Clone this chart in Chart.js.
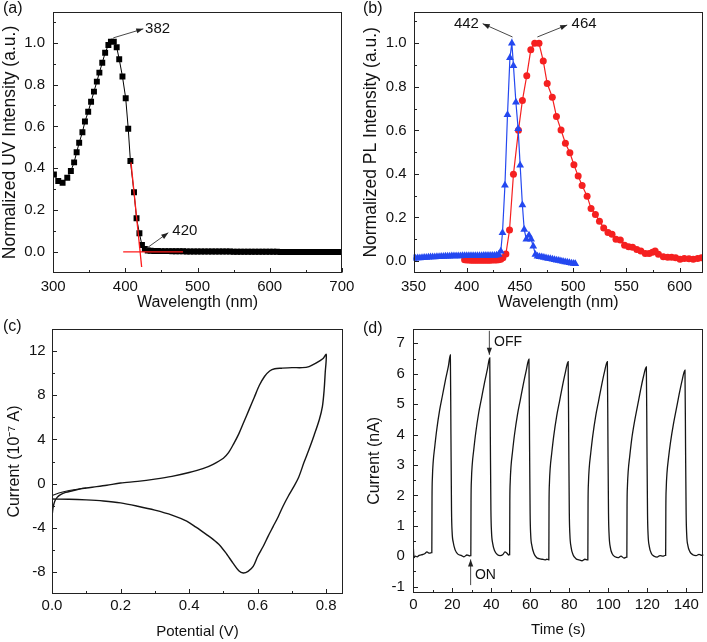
<!DOCTYPE html>
<html><head><meta charset="utf-8">
<script src="https://cdn.jsdelivr.net/npm/chart.js@4.4.0/dist/chart.umd.min.js"></script>
<style>
html,body{margin:0;padding:0;background:#fff;}
#wrap{position:relative;width:707px;height:642px;overflow:hidden;font-family:"Liberation Sans",Arial,sans-serif;background:#fff;}
canvas{position:absolute;left:0;top:0;}
.lbl{position:absolute;font-size:16px;line-height:16px;color:#111;}
</style></head><body>
<div id="wrap">
<canvas id="ca" width="707" height="642"></canvas>
<canvas id="cb" width="707" height="642"></canvas>
<canvas id="cc" width="707" height="642"></canvas>
<canvas id="cd" width="707" height="642"></canvas>
<div class="lbl" style="left:3px;top:0px">(a)</div>
<div class="lbl" style="left:363px;top:0px">(b)</div>
<div class="lbl" style="left:3px;top:318px">(c)</div>
<div class="lbl" style="left:363px;top:320px">(d)</div>
</div>
<script>
// ---------- Panel (a): UV absorption ----------
const aWave = [301,307,313,319.5,324.5,329,332.5,336,340.5,344,348.5,352.5,356.5,360.5,364,368,372,376.5,380,384,388,391.5,396,400.5,404,407,412,415.5,419.5,423,427,431,
  435,440,445,450,455,460,465,470,475,480,485,490,495,500,505,510,515,520,525,530,535,540,545,550,555,560,565,570,575,580,585,590,595,600,605,610,615,620,625,630,635,640,645,650,655,660,665,670,675,680,685,690,695,700];
const aUV = [0.37,0.339,0.331,0.355,0.387,0.428,0.476,0.522,0.572,0.623,0.67,0.718,0.766,0.814,0.857,0.904,0.952,0.989,1.005,1.005,0.978,0.921,0.838,0.734,0.589,0.435,0.285,0.161,0.089,0.033,0.014,0.007,
  0.006,0.005,0.005,0.004,0.004,0.004,0.003,0.003,0.003,0.003,0.002,0.002,0.002,0.002,0.002,0.002,0.002,0.002,0.002,0.002,0.002,0.002,0.002,0.001,0.001,0.001,0.001,0.001,0.001,0.001,0.001,0.001,0.001,0.001,0.001,0.001,0.0,0.0,0.0,0.0,0.0,0.0,0.0,0.0,0.0,0.0,0.0,0.0,0.0,0.0,0.0,0.0,0.0,0.0];
const aTangentX = [407.8, 422.6], aTangentY = [0.428, -0.072];
const aEdgeX = [397, 480], aEdgeY = [0, 0];
const aXTicks = [300,400,500,600,700], aXMinor = [350,450,550,650];
const aYTicks = [0,0.2,0.4,0.6,0.8,1.0], aYMinor = [0.1,0.3,0.5,0.7,0.9,1.1];

// ---------- Panel (b): PL spectra ----------
const bBlueX = [350,352,354,356,358,360,362,364,366,368,370,372,374,376,378,380,382,384,386,388,390,392,394,396,398,400,402,404,406,408,410,412,414,416,418,420,422,424,426,428,430,
  432,433.6,435.9,438.3,440.6,442.4,443.9,446.2,448.3,450.2,452.3,454,456,458.5,460.5,462.5,464.5,
  466.5,468.5,470.5,472.5,474.5,476.5,478.5,480.5,482.5,484.5,486.5,488.5,490.5,492.5,494.5,496.5,498.5,500.5,502];
const bBlueY = [0.012,0.013,0.014,0.014,0.015,0.016,0.016,0.017,0.018,0.018,0.019,0.02,0.02,0.021,0.021,0.022,0.022,0.022,0.023,0.023,0.023,0.023,0.023,0.024,0.024,0.024,0.024,0.024,0.024,0.024,0.024,0.024,0.024,0.025,0.025,0.025,0.025,0.025,0.025,0.026,0.03,
  0.045,0.13,0.348,0.672,0.934,1.0,0.897,0.729,0.607,0.44,0.257,0.145,0.1,0.118,0.1,0.068,0.03,
  0.022,0.02,0.018,0.016,0.014,0.012,0.01,0.008,0.006,0.004,0.002,0.0,-0.002,-0.004,-0.006,-0.008,-0.01,-0.011,-0.012];
const bRedX = [398,400,402,404,406,408,410,412,414,416,418,420,422,424,426,428,430,432,434,
  436.8,440.2,443.9,448.6,452.3,456.4,460.2,463.9,467.9,471.9,475.6,480.4,484.3,488.6,492.7,496.9,500.7,504.7,508.4,513.1,516.8,520.9,524.7,528.7,532.7,536.5,540.2,544.3,548.3,552.1,555.8,559.8,563.6,567.7,571.4,574.5,577,580.1,584.7,588.8,592.5,596.3,600.4,604.4,608.8,612.8,616.9,620.5];
const bRedY = [0.006,0.005,0.005,0.004,0.004,0.004,0.004,0.004,0.004,0.004,0.004,0.004,0.004,0.005,0.005,0.005,0.006,0.008,0.015,
  0.032,0.142,0.398,0.6,0.737,0.851,0.97,1.0,1.0,0.919,0.815,0.752,0.664,0.602,0.541,0.497,0.442,0.39,0.347,0.298,0.241,0.214,0.183,0.152,0.131,0.123,0.1,0.097,0.073,0.065,0.063,0.053,0.046,0.035,0.035,0.04,0.046,0.031,0.02,0.017,0.017,0.015,0.008,0.012,0.01,0.008,0.012,0.015];
const bXTicks = [350,400,450,500,550,600], bXMinor = [375,425,475,525,575];
const bYTicks = [0,0.2,0.4,0.6,0.8,1.0], bYMinor = [0.1,0.3,0.5,0.7,0.9,1.1];

// ---------- Panel (c): cyclic voltammetry ----------
const cV = [0.0,0.003,0.008,0.015,0.025,0.04,0.06,0.08,0.1,0.13,0.16,0.2,0.25,0.3,0.35,0.4,0.44,0.47,0.5,0.515,0.53,0.545,0.56,0.575,0.59,0.605,0.62,0.635,0.65,0.67,0.7,0.73,0.75,0.77,0.79,0.8,
  0.797,0.794,0.789,0.78,0.765,0.75,0.735,0.72,0.705,0.69,0.674,0.66,0.645,0.63,0.616,0.6,0.587,0.572,0.558,0.545,0.528,0.51,0.49,0.47,0.45,0.42,0.393,0.35,0.3,0.25,0.2,0.15,0.1,0.05,0.0];
const cI = [-3.0,-2.2,-1.6,-1.25,-1.0,-0.8,-0.65,-0.5,-0.4,-0.28,-0.15,0.05,0.2,0.4,0.65,1.0,1.35,1.75,2.3,2.8,3.6,4.5,5.6,6.7,7.8,8.9,9.7,10.2,10.4,10.45,10.5,10.5,10.6,10.9,11.3,11.7,
  10.0,8.5,7.0,5.8,4.4,3.1,1.9,0.6,-0.3,-1.1,-2.05,-3.0,-3.9,-4.8,-5.7,-6.6,-7.5,-7.95,-8.1,-7.9,-7.2,-6.4,-5.6,-5.05,-4.6,-3.95,-3.4,-2.85,-2.4,-2.05,-1.75,-1.58,-1.48,-1.42,-1.4];
const cV2 = [0.0,0.02,0.05,0.08,0.1];
const cI2 = [-1.1,-0.85,-0.62,-0.48,-0.4];
const cXTicks = [0,0.2,0.4,0.6,0.8], cXMinor = [0.1,0.3,0.5,0.7];
const cYTicks = [-8,-4,0,4,8,12], cYMinor = [-6,-2,2,6,10];

// ---------- Panel (d): photocurrent ----------
const dTime = [0,0.4,1,2,3,4,5,6,7,8,9,9.4,
 9.5,9.6,9.8,10.2,11,12,13.5,15,16.5,18,19,
 19.3,19.6,19.9,20.5,21.5,23,24.5,26,27.5,29,29.4,
 29.5,29.6,29.8,30.2,31,32,33.5,35,36.5,38,39.2,
 39.5,39.8,40.1,40.7,41.7,43.2,44.5,46,47,48,49,49.3,
 49.4,49.5,49.7,50.1,50.9,51.9,53.4,54.9,56.4,57.9,59.3,
 59.6,59.9,60.2,60.8,61.8,63.3,64.5,66,67.5,68.5,69.4,
 69.5,69.6,69.8,70.2,71,72,73.5,75,76.5,78,79.4,
 79.7,80,80.3,80.9,81.9,83.4,85,86.5,88,89.4,
 89.5,89.6,89.8,90.2,91,92,93.5,95,96.5,98,99.5,
 99.8,100.1,100.4,101,102,103.5,105,106.5,108,109.4,
 109.5,109.6,109.8,110.2,111,112,113.5,115,116.5,118,119.5,
 119.8,120.1,120.4,121,122,123.5,125,126.5,128,129.3,
 129.4,129.5,129.7,130.1,130.9,131.9,133.4,134.9,136.4,137.9,139.3,
 139.6,139.9,140.2,140.8,141.8,143.3,145,146.5,148,150];
const dCurrent = [0.3,-0.05,0.0,-0.02,0.03,0.04,0.06,0.09,0.14,0.1,0.11,0.12,
 0.12,1.9,2.6,3.1,3.6,4.15,4.8,5.3,5.8,6.25,6.62,
 4.0,1.5,0.8,0.45,0.2,0.06,0.03,-0.02,0.04,0.01,0.02,
 0.02,1.8,2.5,3.0,3.5,4.05,4.7,5.2,5.7,6.15,6.52,
 3.9,1.5,0.8,0.42,0.18,0.05,0.02,0.06,0.14,0.1,0.04,0.05,
 0.05,1.8,2.45,2.95,3.45,4.0,4.65,5.15,5.65,6.1,6.48,
 3.8,1.4,0.7,0.35,0.1,-0.05,-0.08,-0.1,-0.12,-0.1,-0.12,
 -0.12,1.7,2.4,2.9,3.4,3.95,4.6,5.1,5.6,6.05,6.4,
 3.8,1.4,0.7,0.3,0.05,-0.08,-0.12,-0.15,-0.1,-0.12,
 -0.12,1.7,2.4,2.9,3.4,3.95,4.6,5.1,5.6,6.05,6.4,
 3.8,1.4,0.7,0.3,0.08,-0.02,-0.05,0.0,-0.06,-0.03,
 -0.03,1.65,2.3,2.8,3.3,3.85,4.45,4.95,5.45,5.9,6.22,
 3.7,1.4,0.7,0.32,0.1,0.0,-0.03,0.02,0.0,0.03,
 0.03,1.6,2.25,2.75,3.25,3.75,4.35,4.85,5.35,5.8,6.12,
 3.6,1.4,0.7,0.35,0.15,0.05,0.02,0.06,0.03,0.05];
const dXTicks = [0,20,40,60,80,100,120,140], dXMinor = [10,30,50,70,90,110,130];
const dYTicks = [-1,0,1,2,3,4,5,6,7], dYMinor = [-0.5,0.5,1.5,2.5,3.5,4.5,5.5,6.5];

// ---------- helpers ----------
const FONT = '"Liberation Sans", Arial, sans-serif';
const INK = '#111';
function pts(xs, ys){ return xs.map((v,i)=>({x:v, y:ys[i]})); }

function xAxis(min,max,ticks,fmt,title,h,tickPad,titlePadB,titleSize){
  return {type:'linear',position:'bottom',min:min,max:max,
    afterBuildTicks:s=>{s.ticks=ticks.map(v=>({value:v}));},
    afterFit:s=>{s.height=h;s.paddingLeft=0;s.paddingRight=0;},
    grid:{display:false,drawTicks:false},border:{display:false},
    ticks:{color:INK,font:{family:FONT,size:15},padding:tickPad,maxRotation:0,autoSkip:false,callback:fmt},
    title:{display:true,text:title,color:INK,font:{family:FONT,size:titleSize},padding:{top:0,bottom:titlePadB}}};
}
function yAxis(min,max,ticks,fmt,title,w,tickPad,titlePadT,titleSize){
  return {type:'linear',position:'left',min:min,max:max,
    afterBuildTicks:s=>{s.ticks=ticks.map(v=>({value:v}));},
    afterFit:s=>{s.width=w;s.paddingTop=0;s.paddingBottom=0;},
    grid:{display:false,drawTicks:false},border:{display:false},
    ticks:{color:INK,font:{family:FONT,size:15},padding:tickPad,autoSkip:false,callback:fmt},
    title:{display:true,text:title,color:INK,font:{family:FONT,size:titleSize},padding:{top:titlePadT,bottom:0}}};
}

function arrow(ctx,x1,y1,x2,y2){
  ctx.beginPath(); ctx.moveTo(x1,y1); ctx.lineTo(x2,y2); ctx.stroke();
  const a=Math.atan2(y2-y1,x2-x1), L=7, W=2.6;
  ctx.beginPath(); ctx.moveTo(x2,y2);
  ctx.lineTo(x2-L*Math.cos(a)+W*Math.sin(a), y2-L*Math.sin(a)-W*Math.cos(a));
  ctx.lineTo(x2-L*Math.cos(a)-W*Math.sin(a), y2-L*Math.sin(a)+W*Math.cos(a));
  ctx.closePath(); ctx.fill();
}

const framePlugin = {
  id:'frame',
  afterDatasetsDraw(chart, args, o){
    const ctx=chart.ctx, a=chart.chartArea, x=chart.scales.x, y=chart.scales.y;
    ctx.save();
    const L=Math.round(a.left)+0.5, R=Math.round(a.right)-0.5, T=Math.round(a.top)+0.5, B=Math.round(a.bottom)-0.5;
    ctx.strokeStyle='#222'; ctx.lineWidth=1;
    ctx.strokeRect(L,T,R-L,B-T);
    ctx.beginPath();
    const xt=(v,len)=>{const p=Math.round(x.getPixelForValue(v))+0.5; ctx.moveTo(p,B); ctx.lineTo(p,B-len);};
    const yt=(v,len)=>{const p=Math.round(y.getPixelForValue(v))+0.5; ctx.moveTo(L,p); ctx.lineTo(L+len,p);};
    o.xMajor.forEach(v=>xt(v,4.5)); o.xMinor.forEach(v=>xt(v,2.5));
    o.yMajor.forEach(v=>yt(v,4.5)); o.yMinor.forEach(v=>yt(v,2.5));
    ctx.stroke();
    ctx.strokeStyle='#333'; ctx.fillStyle='#222'; ctx.lineWidth=0.9;
    (o.arrows||[]).forEach(r=>arrow(ctx,x.getPixelForValue(r[0]),y.getPixelForValue(r[1]),x.getPixelForValue(r[2]),y.getPixelForValue(r[3])));
    (o.texts||[]).forEach(t=>{
      ctx.font=(t[4]||15)+'px '+FONT; ctx.fillStyle=INK; ctx.textAlign=t[3]; ctx.textBaseline='middle';
      ctx.fillText(t[2], x.getPixelForValue(t[0]), y.getPixelForValue(t[1]));
    });
    ctx.restore();
  }
};

function base(padding, scales, frame){
  return {responsive:false,animation:false,devicePixelRatio:1,
    layout:{padding:padding},
    plugins:{legend:{display:false},tooltip:{enabled:false},frame:frame},
    scales:scales};
}
const f1 = v=>Number(v).toFixed(1);
const f0 = v=>String(v);

// ---- chart (a)
new Chart(document.getElementById('ca'),{
  type:'scatter',
  data:{datasets:[
    {data:pts(aTangentX,aTangentY),showLine:true,borderColor:'#ff1a1a',borderWidth:1.3,pointRadius:0,order:0},
    {data:pts(aEdgeX,aEdgeY),showLine:true,borderColor:'#ff1a1a',borderWidth:1.3,pointRadius:0,order:0},
    {data:pts(aWave,aUV),showLine:true,borderColor:'#000',borderWidth:1,pointStyle:'rect',pointRadius:4.2,pointBackgroundColor:'#000',pointBorderWidth:0,order:1}
  ]},
  options:base({left:0,top:11.7,right:365.2,bottom:332},
    {x:xAxis(300,700,aXTicks,f0,'Wavelength (nm)',36.7,4.4,-1.8,16),
     y:yAxis(-0.102,1.148,aYTicks,f1,'Normalized UV Intensity (a.u.)',53.2,8.2,0,17.5)},
    {xMajor:aXTicks,xMinor:aXMinor,yMajor:aYTicks,yMinor:aYMinor,
     arrows:[[383.3,1.023,424.9,1.066],[429.6,0.018,459.5,0.092]],
     texts:[[427.4,1.068,'382','left'],[465.1,0.103,'420','left']]}),
  plugins:[framePlugin]
});

// ---- chart (b)
new Chart(document.getElementById('cb'),{
  type:'scatter',
  data:{datasets:[
    {data:pts(bBlueX,bBlueY),showLine:true,borderColor:'#2448f0',borderWidth:1.2,pointStyle:'triangle',pointRadius:4.5,pointBackgroundColor:'#2448f0',pointBorderWidth:0,order:0},
    {data:pts(bRedX,bRedY),showLine:true,borderColor:'#f52020',borderWidth:1.2,pointStyle:'circle',pointRadius:3.5,pointBackgroundColor:'#f52020',pointBorderWidth:0,order:1}
  ]},
  options:base({left:353,top:11.7,right:3,bottom:332},
    {x:xAxis(350,621.5,bXTicks,f0,'Wavelength (nm)',37,4.7,-1.8,16),
     y:yAxis(-0.055,1.145,bYTicks,f1,'Normalized PL Intensity (a.u.)',60.5,6.8,7.5,17.5)},
    {xMajor:bXTicks,xMinor:bXMinor,yMajor:bYTicks,yMinor:bYMinor,
     arrows:[[443,1.029,415,1.09],[466.4,1.029,494.4,1.084]],
     texts:[[411.5,1.087,'442','right'],[498.5,1.087,'464','left']]}),
  plugins:[framePlugin]
});

// ---- chart (c)
new Chart(document.getElementById('cc'),{
  type:'scatter',
  data:{datasets:[
    {data:pts(cV,cI),showLine:true,borderColor:'#151515',borderWidth:1.4,pointRadius:0,tension:0.3},
    {data:pts(cV2,cI2),showLine:true,borderColor:'#151515',borderWidth:1.1,pointRadius:0,tension:0.3}
  ]},
  options:base({left:0,top:329,right:364,bottom:0},
    {x:xAxis(0,0.849,cXTicks,f1,'Potential (V)',48,3,1.3,15),
     y:yAxis(-10,14,cYTicks,f0,'Current (10\u207B\u2077 A)',52,6.3,5.4,16)},
    {xMajor:cXTicks,xMinor:cXMinor,yMajor:cYTicks,yMinor:cYMinor}),
  plugins:[framePlugin]
});

// ---- chart (d)
new Chart(document.getElementById('cd'),{
  type:'scatter',
  data:{datasets:[
    {data:pts(dTime,dCurrent),showLine:true,borderColor:'#151515',borderWidth:1.3,pointRadius:0,cubicInterpolationMode:'monotone'}
  ]},
  options:base({left:353,top:329,right:3.7,bottom:0},
    {x:xAxis(0,148.7,dXTicks,f0,'Time (s)',49.3,3.3,3,15),
     y:yAxis(-1.2,7.47,dYTicks,f0,'Current (nA)',60.3,8.5,12.4,16)},
    {xMajor:dXTicks,xMinor:dXMinor,yMajor:dYTicks,yMinor:dYMinor,
     arrows:[[39,7.41,39,6.62],[29.4,-0.95,29.4,-0.105]],
     texts:[[41.4,7.05,'OFF','left',14],[31.6,-0.62,'ON','left',14]]}),
  plugins:[framePlugin]
});
</script>
</body></html>
